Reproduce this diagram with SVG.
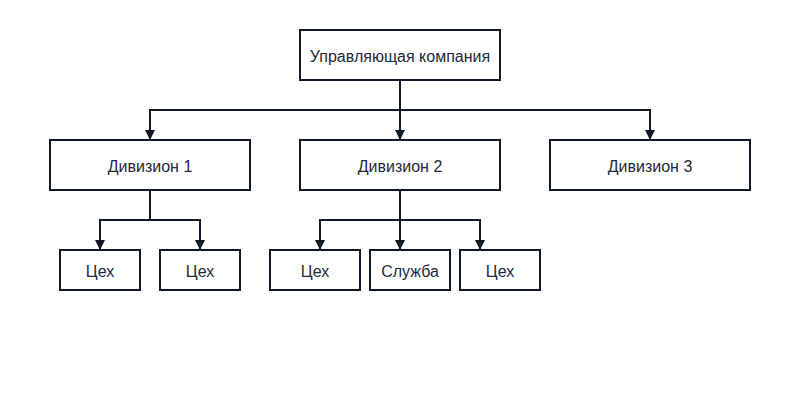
<svg xmlns="http://www.w3.org/2000/svg" width="800" height="400" viewBox="0 0 800 400">
<style>
.box{fill:#fff;stroke:#111827;stroke-width:2}
.t{font-family:"Liberation Sans",Arial,sans-serif;font-size:16px;fill:#1f2937;text-anchor:middle;dominant-baseline:central}
.c{fill:none;stroke:#111827;stroke-width:2;marker-end:url(#a)}
</style>
<defs><marker id="a" viewBox="0 0 10 10" refX="9" refY="5" markerWidth="5" markerHeight="5" orient="auto" markerUnits="strokeWidth"><path d="M0,0L10,5L0,10z" fill="#111827"/></marker></defs>
<rect width="800" height="400" fill="#fff"/>
<g id="connectors">
<path class="c" d="M400,80V110H150V139"/>
<path class="c" d="M400,110V139"/>
<path class="c" d="M400,110H650V139"/>
<path class="c" d="M150,190V220H100V249"/>
<path class="c" d="M150,220H200V249"/>
<path class="c" d="M400,190V220H320V249"/>
<path class="c" d="M400,220V249"/>
<path class="c" d="M400,220H480V249"/>
</g>
<g id="root"><rect class="box" x="300" y="30" width="200" height="50"/><text class="t" x="400" y="56">Управляющая компания</text></g>
<g id="d1"><rect class="box" x="50" y="140" width="200" height="50"/><text class="t" x="150" y="166">Дивизион 1</text></g>
<g id="d2"><rect class="box" x="300" y="140" width="200" height="50"/><text class="t" x="400" y="166">Дивизион 2</text></g>
<g id="d3"><rect class="box" x="550" y="140" width="200" height="50"/><text class="t" x="650" y="166">Дивизион 3</text></g>
<g id="s1"><rect class="box" x="60" y="250" width="80" height="40"/><text class="t" x="100" y="271">Цех</text></g>
<g id="s2"><rect class="box" x="160" y="250" width="80" height="40"/><text class="t" x="200" y="271">Цех</text></g>
<g id="s3"><rect class="box" x="270" y="250" width="90" height="40"/><text class="t" x="315" y="271">Цех</text></g>
<g id="s4"><rect class="box" x="370" y="250" width="80" height="40"/><text class="t" x="410" y="271">Служба</text></g>
<g id="s5"><rect class="box" x="460" y="250" width="80" height="40"/><text class="t" x="500" y="271">Цех</text></g>
</svg>
